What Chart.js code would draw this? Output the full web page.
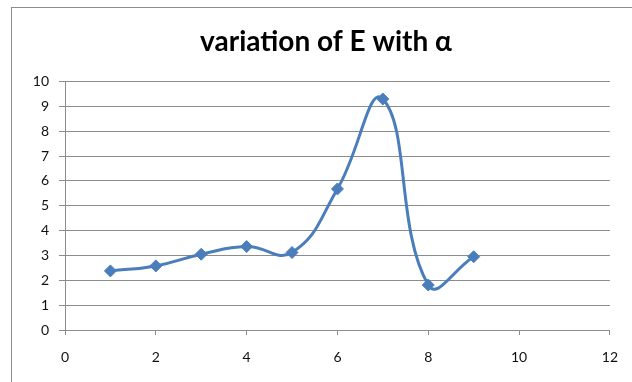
<!DOCTYPE html>
<html>
<head>
<meta charset="utf-8">
<script src="https://cdn.jsdelivr.net/npm/chart.js@4"></script>
<style>
  html, body { margin: 0; padding: 0; background: #fff; overflow: hidden; }
  #wrap { position: relative; width: 632px; height: 382px; }
  #frame {
    position: absolute; left: 11px; top: 7px; width: 640px; height: 400px;
    border-left: 1px solid #8c8c8c; border-top: 1px solid #8c8c8c;
  }
  canvas { position: absolute; left: 0; top: 0; }
</style>
</head>
<body>
<div id="wrap">
  <div id="frame"></div>
  <canvas id="grafica" width="632" height="382"></canvas>
</div>
<script>
// ===== Datos =====
const alphaValues = [1, 2, 3, 4, 5, 6, 7, 8, 9];
const eValues = [2.38, 2.58, 3.05, 3.36, 3.12, 5.68, 9.3, 1.81, 2.95];
const titulo = "variation of E with \u03b1";

const puntos = alphaValues.map((a, i) => ({ x: a, y: eValues[i] }));

const ctx = document.getElementById("grafica");

// mueve el título un poco a la derecha (como en la original)
const moverTitulo = {
  id: "moverTitulo",
  afterLayout(chart) {
    const t = chart.titleBlock;
    if (t) {
      t.left += 19;
      t.right += 19;
    }
  },
};

new Chart(ctx, {
  type: "line",
  data: {
    datasets: [
      {
        data: puntos,
        borderColor: "#4a7ebb",
        backgroundColor: "#4a7ebb",
        borderWidth: 3,
        tension: 0.45,
        pointStyle: "rectRot",
        pointRadius: 6,
        pointBorderWidth: 1,
        fill: false,
      },
    ],
  },
  plugins: [moverTitulo],
  options: {
    responsive: false,
    animation: false,
    layout: { padding: { left: 0, right: 18, top: 0, bottom: 0 } },
    plugins: {
      legend: { display: false },
      tooltip: { enabled: false },
      title: {
        display: true,
        text: titulo,
        color: "#000",
        font: { family: "Lato", size: 28, weight: "bold" },
        padding: { top: 25, bottom: 23 },
      },
    },
    scales: {
      x: {
        type: "linear",
        min: 0,
        max: 12,
        ticks: {
          stepSize: 2,
          color: "#111",
          padding: 14,
          font: { family: "Lato", size: 14 },
        },
        grid: {
          drawOnChartArea: false,
          drawTicks: true,
          tickLength: 5,
          color: "#8c8c8c",
        },
        border: { color: "#8c8c8c", width: 1 },
        afterFit: (scale) => { scale.height = 52; },
      },
      y: {
        min: 0,
        max: 10,
        ticks: {
          stepSize: 1,
          color: "#111",
          padding: 10,
          font: { family: "Lato", size: 14 },
        },
        grid: {
          color: "#8c8c8c",
          tickLength: 6,
        },
        border: { color: "#8c8c8c", width: 1 },
        afterFit: (scale) => { scale.width = 65; },
      },
    },
  },
});
</script>
</body>
</html>
